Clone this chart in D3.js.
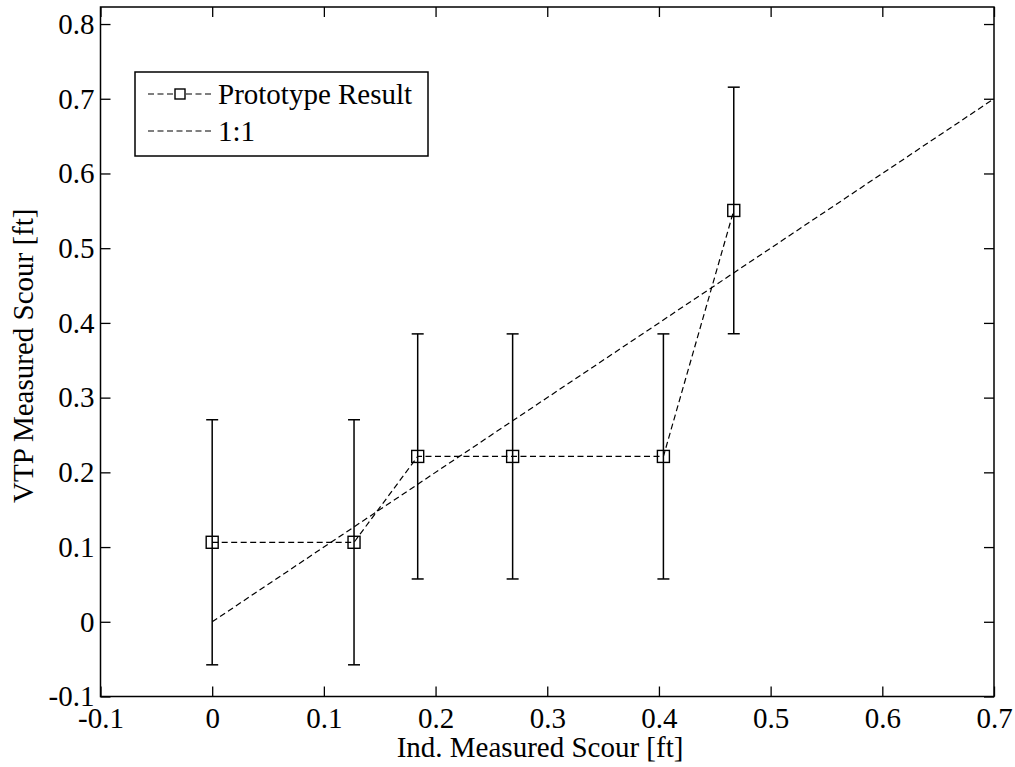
<!DOCTYPE html>
<html>
<head>
<meta charset="utf-8">
<script src="https://cdn.jsdelivr.net/npm/d3@7"></script>
<style>
  body { margin: 0; background: #fff; }
  svg text { font-family: "Liberation Serif", "Times New Roman", serif; fill: #000; }
</style>
</head>
<body>
<svg id="chart" width="1015" height="767"></svg>
<script>
// measured scour, independent vs VTP
const indScour = [0, 0.127, 0.184, 0.269, 0.404, 0.467];
const vtpScour = [0.1064, 0.1064, 0.2213, 0.2213, 0.2213, 0.5505];
const errLow = [0.164, 0.164, 0.164, 0.164, 0.164, 0.165];
const errHigh = [0.164, 0.164, 0.164, 0.164, 0.164, 0.165];
const oneToOne = [[0, 0], [0.7, 0.7]];
const xTicks = [-0.1, 0, 0.1, 0.2, 0.3, 0.4, 0.5, 0.6, 0.7];
const yTicks = [-0.1, 0, 0.1, 0.2, 0.3, 0.4, 0.5, 0.6, 0.7, 0.8];
const legendItems = ["Prototype Result", "1:1"];

const svg = d3.select('#chart');
const box = { left: 100.5, right: 994, top: 7, bottom: 696.5 };

const x = d3.scaleLinear().domain([-0.1, 0.7]).range([box.left, box.right]);
const y = d3.scaleLinear().domain([-0.1, 0.8228]).range([box.bottom, box.top]);

// plain hyphen for negatives, like the original
const fmt = d => d === 0 ? "0" : d3.format(".1f")(d).replace('\u2212', '-');
const fontSize = 29;

// axes with inward ticks on all sides
const tickLen = 10;
svg.append('g')
    .attr('transform', `translate(0,${box.bottom})`)
    .call(d3.axisBottom(x).tickValues(xTicks).tickFormat(fmt).tickSizeInner(-tickLen).tickSizeOuter(0).tickPadding(11));
svg.append('g')
    .attr('transform', `translate(0,${box.top})`)
    .call(d3.axisTop(x).tickValues(xTicks).tickFormat('').tickSizeInner(-tickLen).tickSizeOuter(0));
svg.append('g')
    .attr('transform', `translate(${box.left},0)`)
    .call(d3.axisLeft(y).tickValues(yTicks).tickFormat(fmt).tickSizeInner(-tickLen).tickSizeOuter(0).tickPadding(6));
svg.append('g')
    .attr('transform', `translate(${box.right},0)`)
    .call(d3.axisRight(y).tickValues(yTicks).tickFormat('').tickSizeInner(-tickLen).tickSizeOuter(0));

svg.selectAll('.domain').remove();
svg.selectAll('.tick line').attr('stroke', '#000').attr('stroke-width', 1.3);
svg.selectAll('.tick text').style('font-size', fontSize + 'px');

svg.append('rect')
    .attr('x', box.left).attr('y', box.top)
    .attr('width', box.right - box.left).attr('height', box.bottom - box.top)
    .attr('fill', 'none').attr('stroke', '#000').attr('stroke-width', 1.5);

// 1:1 line
svg.append('path')
    .datum(oneToOne)
    .attr('d', d3.line().x(d => x(d[0])).y(d => y(d[1])))
    .attr('fill', 'none').attr('stroke', '#000').attr('stroke-width', 1.2)
    .attr('stroke-dasharray', '6,3.5');

const pts = indScour.map((v, i) => ({ x: v, y: vtpScour[i], lo: vtpScour[i] - errLow[i], hi: vtpScour[i] + errHigh[i] }));

// error bars
const eb = svg.append('g').attr('stroke', '#000').attr('stroke-width', 1.5);
eb.selectAll('.stem').data(pts).enter().append('line')
    .attr('x1', d => x(d.x)).attr('x2', d => x(d.x))
    .attr('y1', d => y(d.lo)).attr('y2', d => y(d.hi));
const cap = 6;
eb.selectAll('.capHi').data(pts).enter().append('line')
    .attr('x1', d => x(d.x) - cap).attr('x2', d => x(d.x) + cap)
    .attr('y1', d => y(d.hi)).attr('y2', d => y(d.hi));
eb.selectAll('.capLo').data(pts).enter().append('line')
    .attr('x1', d => x(d.x) - cap).attr('x2', d => x(d.x) + cap)
    .attr('y1', d => y(d.lo)).attr('y2', d => y(d.lo));

// prototype result line
svg.append('path')
    .datum(pts)
    .attr('d', d3.line().x(d => x(d.x)).y(d => y(d.y)))
    .attr('fill', 'none').attr('stroke', '#000').attr('stroke-width', 1.2)
    .attr('stroke-dasharray', '6,3.5');

const ms = 12;
svg.selectAll('.marker').data(pts).enter().append('rect')
    .attr('x', d => x(d.x) - ms / 2).attr('y', d => y(d.y) - ms / 2)
    .attr('width', ms).attr('height', ms)
    .attr('fill', 'none').attr('stroke', '#000').attr('stroke-width', 1.4);

// axis labels
svg.append('text')
    .attr('x', 540).attr('y', 757)
    .attr('text-anchor', 'middle').style('font-size', fontSize + 'px')
    .text('Ind. Measured Scour [ft]');
svg.append('text')
    .attr('transform', `translate(33,${(box.top + box.bottom) / 2 + 4}) rotate(-90)`)
    .attr('text-anchor', 'middle').style('font-size', fontSize + 'px')
    .text('VTP Measured Scour [ft]');

// legend
const lg = svg.append('g');
lg.append('rect').attr('x', 135).attr('y', 72).attr('width', 293).attr('height', 84)
    .attr('fill', '#fff').attr('stroke', '#000').attr('stroke-width', 1.5);
legendItems.forEach((name, i) => {
    const ly = 94 + i * 37;
    lg.append('line').attr('x1', 148).attr('x2', 212).attr('y1', ly).attr('y2', ly)
        .attr('stroke', '#000').attr('stroke-width', 1.2).attr('stroke-dasharray', '6,3.5');
    if (i === 0) {
        lg.append('rect').attr('x', 180 - 5).attr('y', ly - 5).attr('width', 10).attr('height', 10)
            .attr('fill', '#fff').attr('stroke', '#000').attr('stroke-width', 1.4);
    }
    lg.append('text').attr('x', 218).attr('y', ly + 10).style('font-size', fontSize + 'px').text(name);
});
</script>
</body>
</html>
